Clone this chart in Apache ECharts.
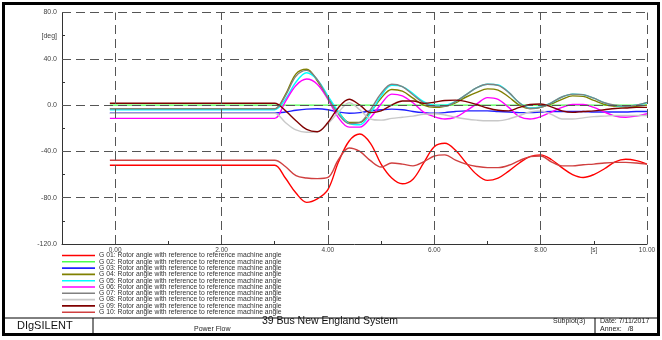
<!DOCTYPE html>
<html>
<head>
<meta charset="utf-8">
<script src="https://cdn.jsdelivr.net/npm/echarts@6/dist/echarts.min.js"></script>
<style>
  html, body { margin: 0; padding: 0; background: #fff; }
  #chart { width: 662px; height: 340px; }
</style>
</head>
<body>
<div id="chart"></div>
<script>
// time points [s]
const times = [-0.1, 2.8, 3.0, 3.2, 3.4, 3.6, 3.8, 4.0, 4.2, 4.4, 4.6, 4.8, 5.0, 5.2, 5.4, 5.6, 5.8, 6.0, 6.2, 6.4,
  6.6, 6.8, 7.0, 7.2, 7.4, 7.6, 7.8, 8.0, 8.2, 8.4, 8.6, 8.8, 9.0, 9.2, 9.4, 9.6, 9.8, 10.0]

// rotor angles [deg]
const g01 = [-52, -52, -52, -63, -76, -84, -81, -73, -49, -31, -25, -33, -51, -63, -68, -64, -50, -36, -33, -39,
  -50, -60, -65, -63, -57, -50, -44.5, -43, -47, -54, -60, -62.5, -60, -55, -49, -46.8, -48, -51]
const g02 = [0, 0, 0, 0, 0, 0, 0, 0, 0, 0, 0, 0, 0, 0, 0, 0, 0, 0, 0, 0,
  0, 0, 0, 0, 0, 0, 0, 0, 0, 0, 0, 0, 0, 0, 0, 0, 0, 0]
const g03 = [-6.8, -6.8, -6.8, -6, -4.5, -3.5, -3.2, -4, -6, -7, -6.5, -5, -4, -3.5, -4, -5.5, -6.5, -7, -6.5, -5.5,
  -5, -5, -5, -5.5, -6, -6.5, -6.5, -6, -5.5, -5.5, -5.5, -5.5, -6, -6, -6, -6, -5.5, -5.5]
const g04 = [-3.3, -3.3, -3.3, 9, 27, 31, 21, 6, -6, -15, -15, -6, 6, 13.5, 12, 6, 0, -2, -1, 2,
  7, 11, 14, 13, 7, 0, -3, -2, 1, 5, 8, 7.5, 4, 0.5, -1, -1.5, -1, 0]
const g05 = [-4, -4, -4, 5, 20, 28, 22, 8, -6, -16, -17, -7, 8, 17, 16, 10, 3, 0, 0, 3,
  9, 15, 18, 17.5, 11, 2, -2.5, -1.5, 2, 7, 9.5, 9, 6, 2, -0.5, -1, 0, 2]
const g06 = [-11.5, -11.5, -11.5, 3, 17, 22.5, 18, 5, -11, -19, -19, -11, 1, 9.5, 8, 2, -6, -10, -12, -10.5,
  -5, 1, 6.5, 5, -2, -10, -12, -10, -6, -2, 0.5, 0.5, -2, -6, -9.5, -10.5, -9.5, -7.5]
const g07 = [-3.3, -3.3, -3.3, 8, 25, 30, 22, 6, -8, -16, -15, -4, 10, 18, 16, 9, 2, -1, -1, 3,
  9, 15, 18, 17, 11, 2, -3, -2, 2, 7, 9.5, 9, 6, 2, 0, -1, 0, 2.4]
const g08 = [-7, -7, -7, -15, -21.5, -23.5, -23, -16, -6, 2, -4, -12, -13, -11.5, -10.5, -9.5, -8, -7.5, -8.5, -10.5,
  -12, -13, -13.5, -13.5, -12, -9, -6, -5, -8, -12, -12, -11, -10, -9.5, -9, -9, -9, -9]
const g09 = [1.6, 1.6, 1.6, -4.8, -13.5, -21, -23, -15, -2, 5, 0, -6.5, -5, 0, 3.5, 3.5, 1.5, 2.5, 4, 4.3,
  3, 0.5, -2.5, -4.5, -5, -2, 0.5, 1, -1.5, -5, -6.3, -5.5, -5, -4, -3, -2.5, -2, -2]
const g10 = [-47.7, -47.7, -47.7, -53, -61, -63, -63.5, -62.5, -47, -37, -40, -48, -53.5, -50, -51, -52.5, -49, -44, -43, -47.5,
  -51, -53, -54, -54, -52, -48, -44.5, -44, -49, -52.5, -52.5, -51.5, -51, -50, -49.5, -49.5, -50, -51]

const seriesNames = ['G 01', 'G 02', 'G 03', 'G 04', 'G 05', 'G 06', 'G 07', 'G 08', 'G 09', 'G 10']
const seriesValues = [g01, g02, g03, g04, g05, g06, g07, g08, g09, g10]
const seriesColors = ['#ff0000', '#4cff4c', '#2020ff', '#808000', '#00ffff', '#ff00ff', '#808080', '#c8c8c8', '#800000', '#d04040']
const legendSuffix = ': Rotor angle with reference to reference machine angle'

// tick labels / grid positions
const xGridLines = [0, 2, 4, 6, 8, 10]
const yGridLines = [80, 40, 0, -40, -80]

const chart = echarts.init(document.getElementById('chart'))

const series = seriesValues.map((vals, i) => ({
  name: seriesNames[i] + legendSuffix,
  type: 'line',
  data: times.map((t, k) => [t, vals[k]]),
  smooth: 0.35,
  symbol: 'none',
  lineStyle: { color: seriesColors[i], width: 1.4 },
  itemStyle: { color: seriesColors[i] },
  z: 3
}))

// dashed grid
series.push({
  name: 'grid',
  type: 'line',
  data: [],
  z: 1,
  markLine: {
    silent: true,
    symbol: 'none',
    label: { show: false },
    lineStyle: { color: '#555', type: [9, 5], width: 1 },
    data: xGridLines.map(v => ({ xAxis: v })).concat(yGridLines.map(v => ({ yAxis: v })))
  }
})

const fontFam = 'Liberation Sans, Arial, sans-serif'

const option = {
  backgroundColor: '#fff',
  animation: false,
  grid: { left: 62, right: 15, top: 12.5, bottom: 96 },
  xAxis: {
    type: 'value',
    min: -1,
    max: 10,
    interval: 1,
    axisLine: { onZero: false, lineStyle: { color: '#333', width: 1 } },
    axisTick: { inside: true, length: 3, lineStyle: { color: '#333' } },
    splitLine: { show: false },
    axisLabel: {
      fontSize: 6.5, color: '#444', fontFamily: fontFam, margin: 3,
      formatter: v => (v === 9 ? '[s]' : (v >= 0 && v % 2 === 0 ? v.toFixed(2) : ''))
    }
  },
  yAxis: {
    type: 'value',
    min: -120,
    max: 80,
    interval: 20,
    axisLine: { show: true, onZero: false, lineStyle: { color: '#333', width: 1 } },
    axisTick: { show: true, inside: true, length: 3, lineStyle: { color: '#333' } },
    splitLine: { show: false },
    axisLabel: {
      fontSize: 7, color: '#444', fontFamily: fontFam, margin: 5,
      formatter: v => (v === 60 ? '[deg]' : (v % 40 === 0 ? v.toFixed(1) : ''))
    }
  },
  legend: {
    orient: 'vertical',
    left: 62,
    top: 252,
    icon: 'rect',
    itemWidth: 33,
    itemHeight: 1.6,
    itemGap: -0.7,
    padding: 0,
    selectedMode: false,
    textStyle: { fontSize: 6.8, lineHeight: 6.2, color: '#333', fontFamily: fontFam, padding: [0, 0, 0, -1] },
    data: seriesNames.map(n => n + legendSuffix)
  },
  graphic: [
    { type: 'rect', shape: { x: 3.5, y: 3.5, width: 655, height: 331 }, style: { fill: 'none', stroke: '#000', lineWidth: 3 }, silent: true },
    { type: 'line', shape: { x1: 4, y1: 318, x2: 658, y2: 318 }, style: { stroke: '#000', lineWidth: 1 } },
    { type: 'line', shape: { x1: 93, y1: 318, x2: 93, y2: 334 }, style: { stroke: '#000', lineWidth: 1 } },
    { type: 'line', shape: { x1: 595, y1: 318, x2: 595, y2: 334 }, style: { stroke: '#000', lineWidth: 1 } },
    { type: 'text', left: 17, top: 320, style: { text: 'DIgSILENT', fontSize: 11, fill: '#111', fontFamily: fontFam } },
    { type: 'text', left: 262, top: 316, style: { text: '39 Bus New England System', fontSize: 10.5, fill: '#111', fontFamily: fontFam } },
    { type: 'text', left: 194, top: 326, style: { text: 'Power Flow', fontSize: 7, fill: '#222', fontFamily: fontFam } },
    { type: 'text', left: 553, top: 318, style: { text: 'Subplot(3)', fontSize: 7, fill: '#222', fontFamily: fontFam } },
    { type: 'text', left: 600, top: 318, style: { text: 'Date: 7/11/2017', fontSize: 7, fill: '#222', fontFamily: fontFam } },
    { type: 'text', left: 600, top: 326, style: { text: 'Annex:   /8', fontSize: 7, fill: '#222', fontFamily: fontFam } }
  ],
  series
}

chart.setOption(option)
</script>
</body>
</html>
